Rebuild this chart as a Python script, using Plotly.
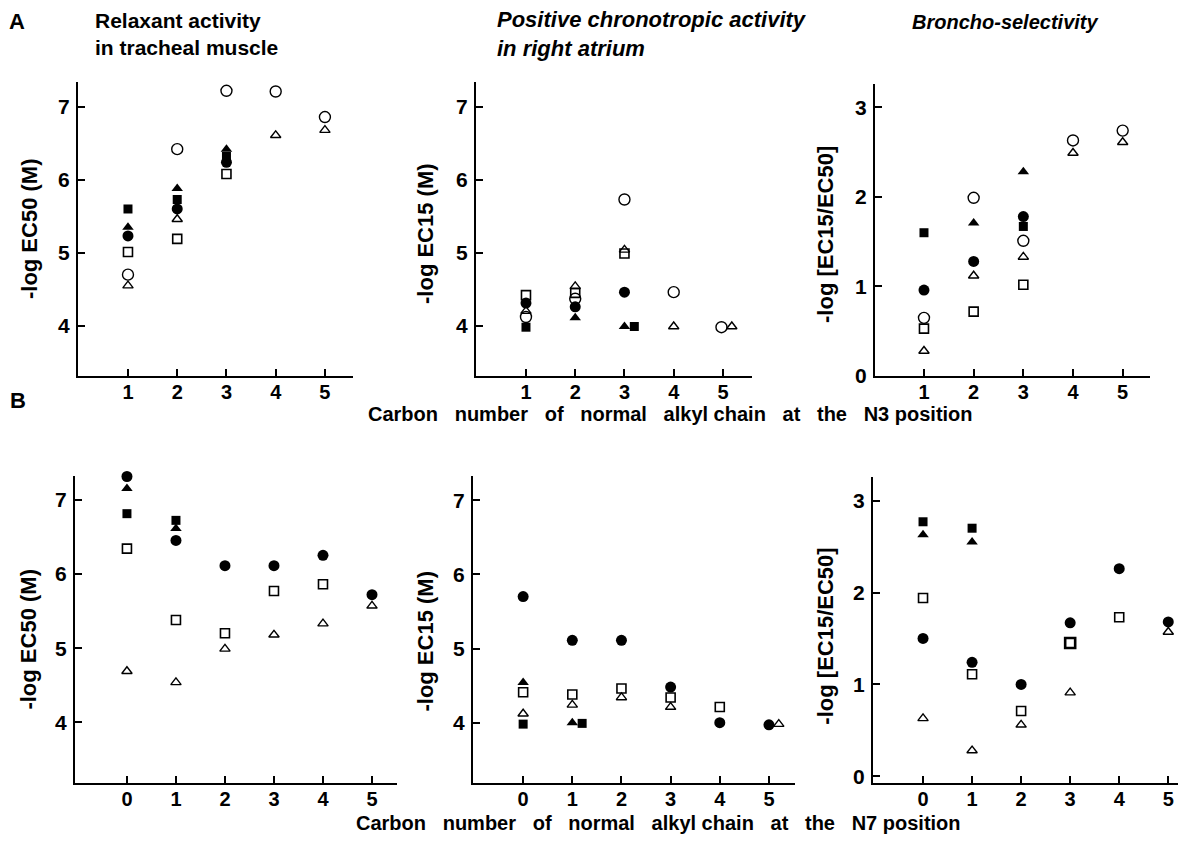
import plotly.graph_objects as go

# ---------------- DATA ----------------
# Panel A: x = carbon number of normal alkyl chain at N3
# A1: Relaxant activity in tracheal muscle, -log EC50 (M)
A1_FC_X = [1, 2, 3];          A1_FC_Y = [5.23, 5.60, 6.24]   # filled circle
A1_FT_X = [1, 2, 3];          A1_FT_Y = [5.35, 5.88, 6.42]   # filled triangle
A1_FS_X = [1, 2, 3];          A1_FS_Y = [5.60, 5.73, 6.32]   # filled square
A1_OC_X = [1, 2, 3, 4, 5];    A1_OC_Y = [4.70, 6.42, 7.22, 7.21, 6.86]  # open circle
A1_OT_X = [1, 2, 4, 5];       A1_OT_Y = [4.55, 5.46, 6.61, 6.68]        # open triangle
A1_OS_X = [1, 2, 3];          A1_OS_Y = [5.01, 5.19, 6.08]   # open square

# A2: Positive chronotropic activity in right atrium, -log EC15 (M)
A2_FC_X = [1, 2, 3];          A2_FC_Y = [4.31, 4.26, 4.46]
A2_FT_X = [2, 3];             A2_FT_Y = [4.11, 3.99]
A2_FS_X = [1, 3.2];           A2_FS_Y = [3.98, 3.99]
A2_OC_X = [1, 2, 3, 4, 4.97]; A2_OC_Y = [4.12, 4.37, 5.73, 4.46, 3.98]
A2_OT_X = [1, 2, 3, 4, 5.18]; A2_OT_Y = [4.20, 4.54, 5.04, 3.99, 3.99]
A2_OS_X = [1, 2, 3];          A2_OS_Y = [4.42, 4.45, 4.99]

# A3: Broncho-selectivity, -log [EC15/EC50]
A3_FC_X = [1, 2, 3];          A3_FC_Y = [0.96, 1.28, 1.78]
A3_FT_X = [2, 3];             A3_FT_Y = [1.71, 2.28]
A3_FS_X = [1, 3];             A3_FS_Y = [1.60, 1.67]
A3_OC_X = [1, 2, 3, 4, 5];    A3_OC_Y = [0.65, 1.99, 1.51, 2.63, 2.74]
A3_OT_X = [1, 2, 3, 4, 5];    A3_OT_Y = [0.28, 1.12, 1.33, 2.49, 2.61]
A3_OS_X = [1, 2, 3];          A3_OS_Y = [0.53, 0.72, 1.02]

# Panel B: x = carbon number of normal alkyl chain at N7
# B1: -log EC50 (M)
B1_FC_X = [0, 1, 2, 3, 4, 5]; B1_FC_Y = [7.31, 6.45, 6.11, 6.11, 6.25, 5.72]
B1_FT_X = [0, 1];             B1_FT_Y = [7.15, 6.61]
B1_FS_X = [0, 1];             B1_FS_Y = [6.81, 6.72]
B1_OT_X = [0, 1, 2, 3, 4, 5]; B1_OT_Y = [4.69, 4.54, 4.99, 5.18, 5.33, 5.57]
B1_OS_X = [0, 1, 2, 3, 4];    B1_OS_Y = [6.34, 5.38, 5.20, 5.77, 5.86]

# B2: -log EC15 (M)
B2_FC_X = [0, 1, 2, 3, 4, 5]; B2_FC_Y = [5.70, 5.11, 5.11, 4.48, 4.00, 3.97]
B2_FT_X = [0, 1];             B2_FT_Y = [4.54, 4.00]
B2_FS_X = [0, 1.2];           B2_FS_Y = [3.98, 3.99]
B2_OT_X = [0, 1, 2, 3, 5.2];  B2_OT_Y = [4.12, 4.24, 4.34, 4.21, 3.98]
B2_OS_X = [0, 1, 2, 3, 4];    B2_OS_Y = [4.41, 4.38, 4.46, 4.34, 4.21]

# B3: -log [EC15/EC50]
B3_FC_X = [0, 1, 2, 3, 4, 5]; B3_FC_Y = [1.50, 1.24, 1.00, 1.67, 2.26, 1.68]
B3_FT_X = [0, 1];             B3_FT_Y = [2.63, 2.55]
B3_FS_X = [0, 1];             B3_FS_Y = [2.77, 2.70]
B3_OT_X = [0, 1, 2, 3, 5];    B3_OT_Y = [0.63, 0.28, 0.56, 0.91, 1.57]
B3_OS_X = [0, 1, 2, 4];       B3_OS_Y = [1.94, 1.11, 0.71, 1.73]
B3_OS_BOLD_X = [3];           B3_OS_BOLD_Y = [1.45]   # heavier open square

N3_TICKS = [1, 2, 3, 4, 5]
N7_TICKS = [0, 1, 2, 3, 4, 5]
EC_TICKS = [4, 5, 6, 7]
SEL_TICKS = [0, 1, 2, 3]

PANEL_TITLES = ["Relaxant activity<br>in tracheal muscle",
                "Positive chronotropic activity<br>in right atrium",
                "Broncho-selectivity"]
Y_TITLES = ["-log EC50 (M)", "-log EC15 (M)", "-log [EC15/EC50]"]
GAP = "\u00a0\u00a0 "
X_TITLE_A = GAP.join(["Carbon", "number", "of", "normal", "alkyl chain", "at", "the", "N3 position"])
X_TITLE_B = GAP.join(["Carbon", "number", "of", "normal", "alkyl chain", "at", "the", "N7 position"])

# ---------------- GEOMETRY ----------------
# The page body has an 8 px margin, so the figure sits at (8, 8) in the window.
OFF = 8
W, H = 1178, 837


def px(p):
    return (p - OFF) / W


def py(p):
    return 1 - (p - OFF) / H


FONT = "Liberation Sans, Arial, sans-serif"
STYLES = {
    "FC": dict(symbol="circle", size=11, lw=0),
    "FT": dict(symbol="triangle-up", size=10, lw=0),
    "FS": dict(symbol="square", size=9, lw=0),
    "OC": dict(symbol="circle-open", size=11, lw=1.4),
    "OT": dict(symbol="triangle-up-open", size=9, lw=1.4),
    "OS": dict(symbol="square-open", size=9, lw=1.6),
    "OSB": dict(symbol="square-open", size=10, lw=2.6),
}

panels = [
    ("", {"OT": (A1_OT_X, A1_OT_Y), "OC": (A1_OC_X, A1_OC_Y), "OS": (A1_OS_X, A1_OS_Y),
          "FC": (A1_FC_X, A1_FC_Y), "FS": (A1_FS_X, A1_FS_Y), "FT": (A1_FT_X, A1_FT_Y)},
     (78, 353), (381, 83), [-0.015, 5.57], [3.31, 7.34], N3_TICKS, EC_TICKS),
    ("2", {"OT": (A2_OT_X, A2_OT_Y), "OC": (A2_OC_X, A2_OC_Y), "OS": (A2_OS_X, A2_OS_Y),
           "FC": (A2_FC_X, A2_FC_Y), "FS": (A2_FS_X, A2_FS_Y), "FT": (A2_FT_X, A2_FT_Y)},
     (476, 752), (381, 83), [-0.015, 5.59], [3.31, 7.34], N3_TICKS, EC_TICKS),
    ("3", {"OT": (A3_OT_X, A3_OT_Y), "OC": (A3_OC_X, A3_OC_Y), "OS": (A3_OS_X, A3_OS_Y),
           "FC": (A3_FC_X, A3_FC_Y), "FS": (A3_FS_X, A3_FS_Y), "FT": (A3_FT_X, A3_FT_Y)},
     (875, 1150), (381, 85), [0.014, 5.55], [0.0, 3.26], N3_TICKS, SEL_TICKS),
    ("4", {"OT": (B1_OT_X, B1_OT_Y), "OS": (B1_OS_X, B1_OS_Y),
           "FC": (B1_FC_X, B1_FC_Y), "FS": (B1_FS_X, B1_FS_Y), "FT": (B1_FT_X, B1_FT_Y)},
     (75, 397), (793, 482), [-1.06, 5.51], [3.19, 7.32], N7_TICKS, EC_TICKS),
    ("5", {"OT": (B2_OT_X, B2_OT_Y), "OS": (B2_OS_X, B2_OS_Y),
           "FC": (B2_FC_X, B2_FC_Y), "FS": (B2_FS_X, B2_FS_Y), "FT": (B2_FT_X, B2_FT_Y)},
     (473, 795), (793, 482), [-1.02, 5.53], [3.19, 7.33], N7_TICKS, EC_TICKS),
    ("6", {"OT": (B3_OT_X, B3_OT_Y), "OS": (B3_OS_X, B3_OS_Y), "OSB": (B3_OS_BOLD_X, B3_OS_BOLD_Y),
           "FC": (B3_FC_X, B3_FC_Y), "FS": (B3_FS_X, B3_FS_Y), "FT": (B3_FT_X, B3_FT_Y)},
     (873, 1182), (793, 483), [-1.02, 5.28], [-0.07, 3.26], N7_TICKS, SEL_TICKS),
]

fig = go.Figure()
layout = dict(
    width=W, height=H, margin=dict(l=0, r=0, t=0, b=0),
    paper_bgcolor="white", plot_bgcolor="white", showlegend=False,
    font=dict(family=FONT, color="black"),
)

for suffix, series, (x0, x1), (y0, y1), xr, yr, xt, yt in panels:
    xa = "x" + suffix
    ya = "y" + suffix
    for key, (xs, ys) in series.items():
        st = STYLES[key]
        fig.add_trace(go.Scatter(
            x=xs, y=ys, mode="markers", xaxis=xa, yaxis=ya, hoverinfo="skip",
            cliponaxis=False,
            marker=dict(symbol=st["symbol"], size=st["size"], color="black",
                        line=dict(color="black", width=st["lw"])),
        ))
    common = dict(showgrid=False, zeroline=False, showline=True, linecolor="black",
                  linewidth=2, ticks="inside", ticklen=7, tickwidth=2, tickcolor="black",
                  fixedrange=True)
    layout["xaxis" + suffix] = dict(domain=[px(x0), px(x1)], range=xr, tickvals=xt, anchor=ya,
                                    ticklabelstandoff=-3,
                                    tickfont=dict(family=FONT, size=20, color="black", weight="bold"),
                                    **common)
    layout["yaxis" + suffix] = dict(domain=[py(y0), py(y1)], range=yr, tickvals=yt, anchor=xa,
                                    ticklabelstandoff=2,
                                    tickfont=dict(family=FONT, size=21, color="black", weight="bold"),
                                    **common)

fig.update_layout(**layout)

ann = []
ann.append(dict(text="<b>A</b>", x=17, y=22, font=dict(size=22)))
ann.append(dict(text="<b>B</b>", x=18, y=406, font=dict(size=22)))
title_specs = [(93, 34, 21), (495, 34, 22), (910, 22, 20)]
for (tx, ty, fs), t in zip(title_specs, PANEL_TITLES):
    if t.startswith("Relax"):
        txt = "<b>" + t + "</b>"
    else:
        txt = "<b><i>" + t.replace("<br>", "</i><br><i>") + "</i></b>"
    ann.append(dict(text=txt, x=tx, y=ty, xanchor="left", align="left", font=dict(size=fs)))
ytitle_pos = [(29, 232, 0), (426, 237, 1), (826, 238, 2), (29, 648, 0), (426, 650, 1), (826, 645, 2)]
for x_, y_, i in ytitle_pos:
    ann.append(dict(text="<b>" + Y_TITLES[i] + "</b>", x=x_, y=y_, textangle=-90, font=dict(size=22)))
ann.append(dict(text="<b>" + X_TITLE_A + "</b>", x=670, y=419, font=dict(size=20)))
ann.append(dict(text="<b>" + X_TITLE_B + "</b>", x=658, y=834, font=dict(size=20)))

for a in ann:
    a.setdefault("xanchor", "center")
    a.update(xref="paper", yref="paper", x=px(a["x"]), y=py(a["y"]),
             yanchor="middle", showarrow=False)
    a["font"] = dict(family=FONT, color="black", **a["font"])
    fig.add_annotation(**a)

fig.write_html("out.html")
